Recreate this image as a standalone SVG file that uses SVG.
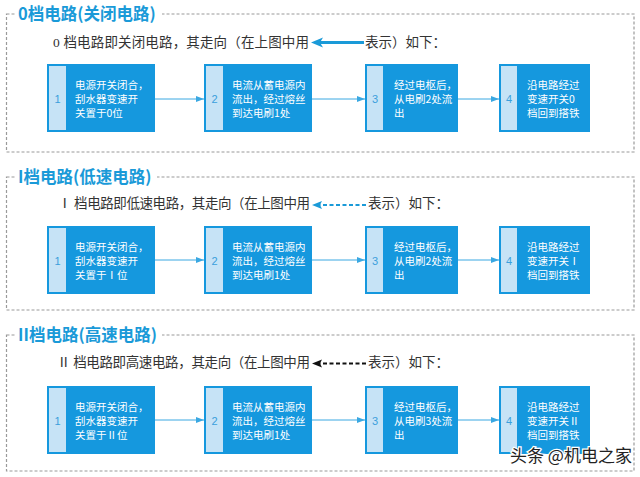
<svg xmlns="http://www.w3.org/2000/svg" width="640" height="477" viewBox="0 0 640 477">
<style>
.frame{fill:none;stroke:#9a9a9a;stroke-width:1.2;stroke-dasharray:3 2}
.title{font-family:"Noto Sans CJK SC","Liberation Sans",sans-serif;font-weight:bold;font-size:16.5px;fill:#1a9ad8}
.sub{font-family:"Liberation Serif","Noto Sans CJK SC",serif;font-size:13.5px;fill:#333}
.box{fill:#1598de}
.strip{fill:#c6e3f6}
.num{font-family:"Liberation Sans",sans-serif;font-size:11px;fill:#3a9fdc;text-anchor:middle}
.bt{font-family:"Noto Sans CJK SC","Liberation Sans",sans-serif;font-size:10.5px;fill:#fff}
.conn{stroke:#3aa8e2;stroke-width:1;fill:none}
.wm{font-family:"Noto Sans CJK SC","Liberation Sans",sans-serif;font-size:17px;fill:#222;stroke:#fff;stroke-width:2.5;paint-order:stroke}
</style>
<defs>
<marker id="ah" viewBox="0 0 8 6" refX="8" refY="3" markerWidth="8" markerHeight="6" markerUnits="userSpaceOnUse" orient="auto">
<path d="M0,0 L8,3 L0,6 Z" fill="#3aa8e2"/>
</marker>
</defs>
<rect width="640" height="477" fill="#fff"/>

<!-- Section 0 -->
<g id="sec0">
<rect class="frame" x="6.5" y="14" width="627.5" height="138"/>
<rect x="15" y="4" width="147" height="20" fill="#fff"/>
<text class="title" x="18" y="20">0档电路(关闭电路)</text>
<text class="sub" x="53" y="47" textLength="256" lengthAdjust="spacing">0 档电路即关闭电路，其走向（在上图中用</text>
<text class="sub" x="365" y="47">表示）如下：</text>
<line x1="364" y1="42.5" x2="320" y2="42.5" stroke="#1a9ad8" stroke-width="3"/>
<path d="M311,42.5 L323,37.5 L320,42.5 L323,47.5 Z" fill="#1a9ad8"/>
</g>
<g id="s0n1"><rect class="box" x="47" y="64" width="108" height="68"/><rect class="strip" x="49" y="66" width="17" height="64"/><text class="num" x="57.5" y="103">1</text>
<text class="bt" x="75" y="89">电源开关闭合，</text><text class="bt" x="75" y="103">刮水器变速开</text><text class="bt" x="75" y="117">关置于0位</text></g>
<g id="s0n2"><rect class="box" x="204" y="64" width="108" height="68"/><rect class="strip" x="206" y="66" width="17" height="64"/><text class="num" x="214.5" y="103">2</text>
<text class="bt" x="232" y="89">电流从蓄电源内</text><text class="bt" x="232" y="103">流出，经过熔丝</text><text class="bt" x="232" y="117">到达电刷1处</text></g>
<g id="s0n3"><rect class="box" x="365" y="64" width="93" height="68"/><rect class="strip" x="367" y="66" width="16" height="64"/><text class="num" x="375" y="103">3</text>
<text class="bt" x="394" y="89">经过电枢后，</text><text class="bt" x="394" y="103">从电刷2处流</text><text class="bt" x="394" y="117">出</text></g>
<g id="s0n4"><rect class="box" x="499" y="64" width="91" height="68"/><rect class="strip" x="501" y="66" width="16" height="64"/><text class="num" x="509" y="103">4</text>
<text class="bt" x="527" y="89">沿电路经过</text><text class="bt" x="527" y="103">变速开关0</text><text class="bt" x="527" y="117">档回到搭铁</text></g>

<!-- Section I -->
<g id="sec1">
<rect class="frame" x="6.5" y="177" width="627.5" height="133"/>
<rect x="15" y="167" width="142" height="20" fill="#fff"/>
<text class="title" x="18" y="183">I档电路(低速电路)</text>
<text class="sub" x="58" y="208" textLength="252" lengthAdjust="spacing">Ⅰ 档电路即低速电路，其走向（在上图中用</text>
<text class="sub" x="368" y="208">表示）如下：</text>
<line x1="366" y1="205" x2="320" y2="205" stroke="#1a9ad8" stroke-width="2" stroke-dasharray="4 2.5"/>
<path d="M312,205 L322,201 L320,205 L322,209 Z" fill="#1a9ad8"/>
</g>
<g id="s1n1"><rect class="box" x="47" y="226" width="108" height="68"/><rect class="strip" x="49" y="228" width="17" height="64"/><text class="num" x="57.5" y="265">1</text>
<text class="bt" x="75" y="251">电源开关闭合，</text><text class="bt" x="75" y="265">刮水器变速开</text><text class="bt" x="75" y="279">关置于Ⅰ位</text></g>
<g id="s1n2"><rect class="box" x="204" y="226" width="108" height="68"/><rect class="strip" x="206" y="228" width="17" height="64"/><text class="num" x="214.5" y="265">2</text>
<text class="bt" x="232" y="251">电流从蓄电源内</text><text class="bt" x="232" y="265">流出，经过熔丝</text><text class="bt" x="232" y="279">到达电刷1处</text></g>
<g id="s1n3"><rect class="box" x="365" y="226" width="93" height="68"/><rect class="strip" x="367" y="228" width="16" height="64"/><text class="num" x="375" y="265">3</text>
<text class="bt" x="394" y="251">经过电枢后，</text><text class="bt" x="394" y="265">从电刷2处流</text><text class="bt" x="394" y="279">出</text></g>
<g id="s1n4"><rect class="box" x="499" y="226" width="91" height="68"/><rect class="strip" x="501" y="228" width="16" height="64"/><text class="num" x="509" y="265">4</text>
<text class="bt" x="527" y="251">沿电路经过</text><text class="bt" x="527" y="265">变速开关Ⅰ</text><text class="bt" x="527" y="279">档回到搭铁</text></g>

<!-- Section II -->
<g id="sec2">
<rect class="frame" x="6.5" y="335" width="627.5" height="136"/>
<rect x="15" y="325" width="147" height="20" fill="#fff"/>
<text class="title" x="18" y="341">II档电路(高速电路)</text>
<text class="sub" x="57" y="367" textLength="253" lengthAdjust="spacing">Ⅱ 档电路即高速电路，其走向（在上图中用</text>
<text class="sub" x="368" y="367">表示）如下：</text>
<line x1="366" y1="363.5" x2="320" y2="363.5" stroke="#111" stroke-width="2" stroke-dasharray="4 2.5"/>
<path d="M312,363.5 L322,359.5 L320,363.5 L322,367.5 Z" fill="#111"/>
</g>
<g id="s2n1"><rect class="box" x="47" y="386" width="108" height="68"/><rect class="strip" x="49" y="388" width="17" height="64"/><text class="num" x="57.5" y="425">1</text>
<text class="bt" x="75" y="411">电源开关闭合，</text><text class="bt" x="75" y="425">刮水器变速开</text><text class="bt" x="75" y="439">关置于Ⅱ位</text></g>
<g id="s2n2"><rect class="box" x="204" y="386" width="108" height="68"/><rect class="strip" x="206" y="388" width="17" height="64"/><text class="num" x="214.5" y="425">2</text>
<text class="bt" x="232" y="411">电流从蓄电源内</text><text class="bt" x="232" y="425">流出，经过熔丝</text><text class="bt" x="232" y="439">到达电刷1处</text></g>
<g id="s2n3"><rect class="box" x="365" y="386" width="93" height="68"/><rect class="strip" x="367" y="388" width="16" height="64"/><text class="num" x="375" y="425">3</text>
<text class="bt" x="394" y="411">经过电枢后，</text><text class="bt" x="394" y="425">从电刷3处流</text><text class="bt" x="394" y="439">出</text></g>
<g id="s2n4"><rect class="box" x="499" y="386" width="91" height="68"/><rect class="strip" x="501" y="388" width="16" height="64"/><text class="num" x="509" y="425">4</text>
<text class="bt" x="527" y="411">沿电路经过</text><text class="bt" x="527" y="425">变速开关Ⅱ</text><text class="bt" x="527" y="439">档回到搭铁</text></g>

<g id="connectors">
<line class="conn" x1="155" y1="99" x2="204" y2="99" marker-end="url(#ah)"/>
<line class="conn" x1="312" y1="99" x2="365" y2="99" marker-end="url(#ah)"/>
<line class="conn" x1="458" y1="99" x2="499" y2="99" marker-end="url(#ah)"/>
<line class="conn" x1="155" y1="260" x2="204" y2="260" marker-end="url(#ah)"/>
<line class="conn" x1="312" y1="260" x2="365" y2="260" marker-end="url(#ah)"/>
<line class="conn" x1="458" y1="260" x2="499" y2="260" marker-end="url(#ah)"/>
<line class="conn" x1="155" y1="420" x2="204" y2="420" marker-end="url(#ah)"/>
<line class="conn" x1="312" y1="420" x2="365" y2="420" marker-end="url(#ah)"/>
<line class="conn" x1="458" y1="420" x2="499" y2="420" marker-end="url(#ah)"/>
</g>

<text class="wm" x="510" y="462">头条 @机电之家</text>
</svg>
